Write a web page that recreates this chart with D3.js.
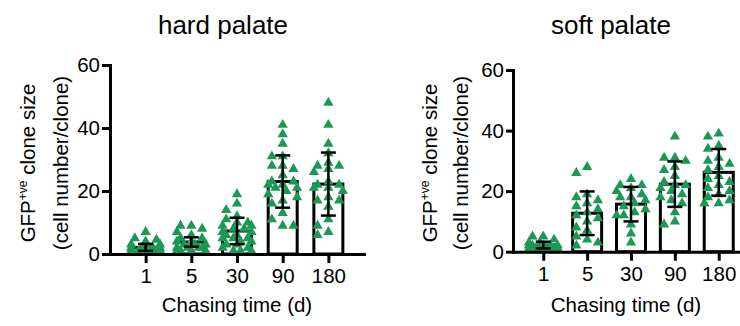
<!DOCTYPE html>
<html>
<head>
<meta charset="utf-8">
<script src="https://cdn.jsdelivr.net/npm/d3@7"></script>
<style>
  body { margin: 0; background: #fff; }
  text { font-family: "Liberation Sans", Arial, Helvetica, sans-serif; fill: #000; }
</style>
</head>
<body>
<div id="chart"></div>
<script>
// chasing time categories (days) and y ticks
const categories = ["1", "5", "30", "90", "180"];
const yTicks = [0, 20, 40, 60];

// hard palate: mean, SD and individual clones
const hardMeans = [2.1, 3.8, 7.3, 23.0, 22.2];
const hardSD = [1.1, 1.5, 4.2, 8.3, 10.0];
const hardPoints = [
  [7, 5, 4.5, 4, 3, 3, 2, 2, 2, 1, 1, 1, 1, 1, 1, 1, 1, 1, 2, 2],
  [9, 9, 8, 7, 6, 5, 4, 4, 3, 3, 2, 2, 2, 1, 1, 1, 1, 2, 3, 5],
  [19, 16, 14, 12, 11, 10, 10, 9, 9, 8, 8, 7, 7, 6, 6, 5, 5, 5, 4, 4, 3, 3, 2, 2, 1, 1, 1],
  [41, 38, 35, 31, 31, 28, 28, 27, 25, 23, 23, 22, 22, 21, 21, 20, 19, 18, 17, 16, 13, 11, 9, 9],
  [48, 41, 35, 32, 29, 28, 28, 27, 26, 23, 22, 22, 21, 21, 20, 18, 17, 17, 15, 11, 9, 7, 6]
];

// soft palate
const softMeans = [2.2, 12.7, 15.7, 22.3, 26.2];
const softSD = [1.1, 7.2, 5.7, 7.5, 7.7];
const softPoints = [
  [5, 5, 4, 3, 3, 2, 2, 2, 1, 1, 1, 1, 1, 1, 2, 2, 1, 1],
  [28, 26, 19, 18, 17, 16, 15, 14, 13, 12, 11, 10, 8, 7, 5, 4, 3, 2],
  [24, 22, 22, 21, 20, 19, 18, 18, 17, 16, 15, 14, 13, 12, 12, 9, 6, 3],
  [38, 31, 31, 30, 28, 27, 25, 23, 22, 22, 21, 20, 19, 18, 17, 16, 13, 10, 9],
  [39, 38, 35, 34, 31, 30, 29, 28, 27, 25, 24, 23, 22, 21, 20, 19, 18, 17, 16, 16]
];

const green = "#1b9856";
const svg = d3.select("#chart").append("svg")
  .attr("width", 740)
  .attr("height", 326);

// spread points sideways so they don't stack (graphpad style scatter)
function swarm(vals, y, cx) {
  const placed = [];
  const order = vals.map((v, i) => i).sort((a, b) => vals[b] - vals[a]);
  order.forEach(i => {
    const py = y(vals[i]);
    const cands = [0];
    for (let k = 1; k <= 4; k++) cands.push(-k * 3.6, k * 3.6);
    let best = 0, bestScore = Infinity;
    for (const dx of cands) {
      let overlap = 0;
      placed.forEach(p => {
        const ddx = Math.abs(p.dx - dx), ddy = Math.abs(p.y - py);
        if (ddx < 9.5 && ddy < 8) overlap += (9.5 - ddx) * (8 - ddy);
      });
      if (overlap === 0) { best = dx; break; }
      if (overlap < bestScore) { bestScore = overlap; best = dx; }
    }
    placed.push({ dx: best, y: py });
  });
  return placed.map(p => ({ x: cx + p.dx, y: p.y }));
}

function drawPanel(opt, means, sds, points) {
  const g = svg.append("g");
  const x = d3.scalePoint().domain(categories).range([opt.x0, opt.x1]).padding(opt.pad);
  const y = d3.scaleLinear().domain([0, 60]).range([opt.y0, opt.y1]);

  // bars
  g.selectAll(".bar")
    .data(categories)
    .join("rect")
    .attr("x", d => x(d) - 14.5)
    .attr("width", 29)
    .attr("y", (d, i) => y(means[i]))
    .attr("height", (d, i) => y(0) - y(means[i]))
    .attr("fill", "#fff")
    .attr("stroke", "#000")
    .attr("stroke-width", 3);

  // triangles
  const tri = d3.symbol().type(d3.symbolTriangle).size(46);
  categories.forEach((c, i) => {
    g.append("g").selectAll("path")
      .data(swarm(points[i], y, x(c)))
      .join("path")
      .attr("d", tri)
      .attr("transform", d => "translate(" + d.x + "," + d.y + ")")
      .attr("fill", green);
  });

  // error bars (mean +/- SD)
  const eb = g.append("g").attr("stroke", "#000").attr("stroke-width", 2.5);
  categories.forEach((c, i) => {
    const cx = x(c), top = y(means[i] + sds[i]), bot = y(Math.max(0, means[i] - sds[i]));
    eb.append("line").attr("x1", cx).attr("x2", cx).attr("y1", top).attr("y2", bot);
    eb.append("line").attr("x1", cx - 7.5).attr("x2", cx + 7.5).attr("y1", top).attr("y2", top);
    eb.append("line").attr("x1", cx - 7.5).attr("x2", cx + 7.5).attr("y1", bot).attr("y2", bot);
  });

  // axes
  const yAxis = g.append("g")
    .attr("transform", "translate(" + opt.x0 + ",0)")
    .call(d3.axisLeft(y).tickValues(yTicks).tickSize(opt.ytick).tickPadding(2).tickSizeOuter(0));
  const xAxis = g.append("g")
    .attr("transform", "translate(0," + opt.y0 + ")")
    .call(d3.axisBottom(x).tickSize(9).tickPadding(opt.xpad).tickSizeOuter(0));
  [yAxis, xAxis].forEach(a => {
    a.select(".domain").attr("stroke-width", 3).attr("stroke-linecap", "square");
    a.selectAll(".tick line").attr("stroke-width", 3);
    a.selectAll(".tick text").style("font-size", "20.5px");
  });

  // titles and labels
  svg.append("text")
    .attr("x", opt.titleX).attr("y", 34)
    .attr("text-anchor", "middle")
    .style("font-size", "26px")
    .text(opt.title);

  svg.append("text")
    .attr("x", opt.xlabX).attr("y", 312)
    .attr("text-anchor", "middle")
    .style("font-size", "20.5px")
    .text("Chasing time (d)");

  const l1 = svg.append("text")
    .attr("transform", "translate(" + opt.lab1 + ",163) rotate(-90)")
    .attr("text-anchor", "middle")
    .style("font-size", "20.5px");
  l1.append("tspan").text("GFP");
  l1.append("tspan").attr("dy", -8).style("font-size", "12px").text("+ve");
  l1.append("tspan").attr("dy", 8).text(" clone size");

  svg.append("text")
    .attr("transform", "translate(" + opt.lab2 + ",163) rotate(-90)")
    .attr("text-anchor", "middle")
    .style("font-size", "20.5px")
    .text("(cell number/clone)");
}

drawPanel({ x0: 110, x1: 364, pad: 0.78, y0: 254, y1: 65, ytick: 8, xpad: 5,
  title: "hard palate", titleX: 223, xlabX: 237, lab1: 35, lab2: 68 },
  hardMeans, hardSD, hardPoints);

drawPanel({ x0: 513, x1: 749, pad: 0.69, y0: 251.7, y1: 70, ytick: 7, xpad: 6,
  title: "soft palate", titleX: 611, xlabX: 626, lab1: 437, lab2: 468 },
  softMeans, softSD, softPoints);
</script>
</body>
</html>
